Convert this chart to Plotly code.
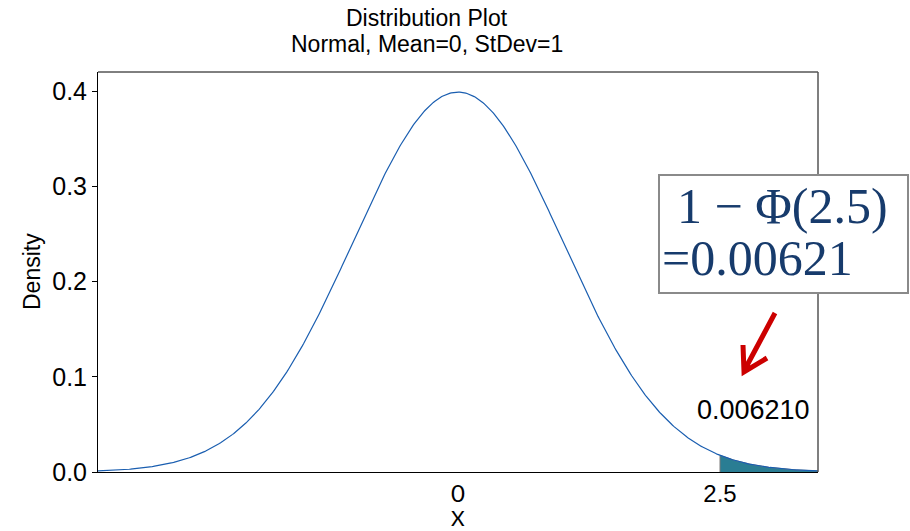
import numpy as np
import plotly.graph_objects as go

# Distribution parameters
mean = 0.0
stdev = 1.0
cutoff = 2.5
tail_prob = 0.006210
x_limits = [-3.435, 3.435]
y_limits = [0.0, 0.42]
y_ticks = [0.0, 0.1, 0.2, 0.3, 0.4]
x_ticks = [0, 2.5]
title_lines = ["Distribution Plot", "Normal, Mean=0, StDev=1"]

# Density curve of the normal distribution over the plotted range
x = np.linspace(x_limits[0], x_limits[1], 600)
pdf = np.exp(-0.5 * ((x - mean) / stdev) ** 2) / (stdev * np.sqrt(2 * np.pi))

xt = np.linspace(cutoff, x_limits[1], 200)
pdf_t = np.exp(-0.5 * ((xt - mean) / stdev) ** 2) / (stdev * np.sqrt(2 * np.pi))

W, H = 910, 531
L, R, T, B = 98, 92, 72, 59
pw, ph = W - L - R, H - T - B


def px(xp):
    return (xp - L) / pw


def py(yp):
    return (H - B - yp) / ph


fig = go.Figure()
# shaded upper tail
fig.add_trace(go.Scatter(
    x=np.concatenate([[cutoff], xt, [x_limits[1]]]),
    y=np.concatenate([[0], pdf_t, [0]]),
    mode="lines", fill="toself", fillcolor="#2A7D93",
    line=dict(color="#7a7a7a", width=1), hoverinfo="skip", showlegend=False))
# density curve
fig.add_trace(go.Scatter(x=x, y=pdf, mode="lines",
                         line=dict(color="#1A5EB0", width=1.2),
                         showlegend=False))

serif = "Liberation Serif, DejaVu Serif, serif"
sans = "Liberation Sans, Arial, sans-serif"
calib = "Lato, Open Sans, sans-serif"

fig.update_layout(
    width=W, height=H,
    margin=dict(l=L, r=R, t=T, b=B, autoexpand=False),
    paper_bgcolor="white", plot_bgcolor="white",
    xaxis=dict(range=x_limits, tickvals=x_ticks, automargin=False,
               ticktext=['<span style="font-family:Lato">0</span>', "2.5"],
               showgrid=False, zeroline=False, showline=True,
               linecolor="black", linewidth=1, mirror=False, ticks="",
               tickfont=dict(family=sans, size=24, color="black")),
    yaxis=dict(range=y_limits, tickvals=y_ticks, automargin=False,
               tickformat=".1f",
               showgrid=False, zeroline=False, showline=True,
               linecolor="black", linewidth=1, ticks="outside", ticklen=5,
               tickcolor="black",
               tickfont=dict(family=sans, size=25, color="black")),
)


def label(xp, yp, text, font, **kw):
    fig.add_annotation(x=px(xp), y=py(yp), xref="paper", yref="paper",
                       text=text, showarrow=False, xanchor=kw.pop("xanchor", "center"),
                       yanchor="middle", font=font, **kw)


# two-line title
label(427, 18, title_lines[0], dict(family=sans, size=23, color="black"))
label(427, 44, title_lines[1], dict(family=sans, size=23, color="black"))

# axis titles
label(458, 517, "X", dict(family=calib, size=21, color="black"))
label(32, 272, "Density", dict(family=sans, size=23, color="black"), textangle=-90)

# top and right frame
fig.add_shape(type="line", xref="paper", yref="paper", x0=0, x1=1, y0=1, y1=1,
              line=dict(color="black", width=1))
fig.add_shape(type="line", xref="paper", yref="paper", x0=1, x1=1, y0=0, y1=1,
              line=dict(color="#555555", width=1.5))

# tail probability label
label(753, 410, f"{tail_prob:.6f}", dict(family=sans, size=27, color="black"))

# red pointer arrow
fig.add_shape(type="path", xref="paper", yref="paper",
              path=(f"M {px(775)},{py(313)} L {px(744)},{py(371)} "
                    f"M {px(743)},{py(345)} L {px(744)},{py(372)} L {px(767)},{py(358)}"),
              line=dict(color="#CC0000", width=5))

# formula box
fig.add_shape(type="rect", xref="paper", yref="paper",
              x0=px(659), x1=px(908), y0=py(293), y1=py(175),
              line=dict(color="#8a8a8a", width=2), fillcolor="white", layer="above")
label(782, 206, "1 − Φ(2.5)", dict(family=serif, size=50, color="#173B6C"))
label(660, 258, "=" + f"{tail_prob:.5f}", dict(family=serif, size=50, color="#173B6C"),
      xanchor="left")

fig.write_html("out.html")
